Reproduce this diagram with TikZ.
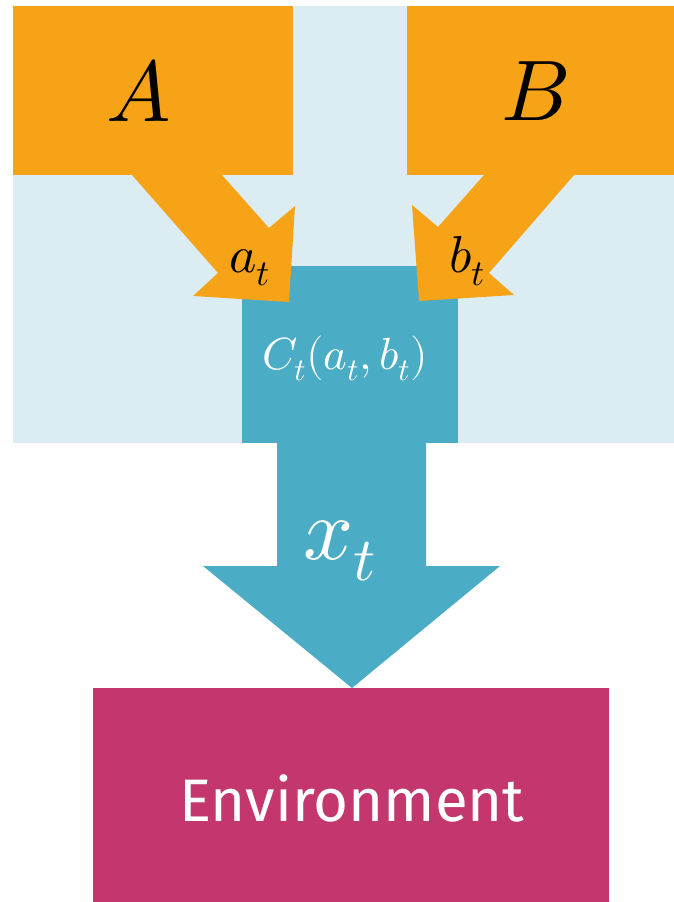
\documentclass[tikz,border=0pt]{standalone}
\usepackage{fontspec}
\usepackage{unicode-math}
\setmainfont{Fira Sans}
\setmathfont{Latin Modern Math}
\definecolor{bgblue}{HTML}{DBEDF3}
\definecolor{orng}{HTML}{F6A317}
\definecolor{tealb}{HTML}{4BACC6}
\definecolor{envpink}{HTML}{C4376E}
\tikzset{
  lbl/.style={inner sep=0pt, outer sep=0pt},
  dark/.style={lbl, text=black},
  light/.style={lbl, text=white},
}
\begin{document}
\begin{tikzpicture}[x=1pt,y=-1pt]
\useasboundingbox (0,0) rectangle (674,902);
% background region
\fill[bgblue] (13,6) rectangle (674,443);
% source boxes
\fill[orng] (13,6) rectangle (293,175);
\fill[orng] (407,6) rectangle (674,175);
% combiner box
\fill[tealb] (242,266) rectangle (458,443);
% arrows from A and B
\fill[orng] (132,175) -- (222,175) -- (269,228) -- (295,206) -- (289,302) -- (193,296) -- (218,273) -- cycle;
\fill[orng] (484,175) -- (574,175) -- (489,273) -- (514,295) -- (419,301) -- (412,205) -- (438,227) -- cycle;
% output arrow
\fill[tealb] (277,442) -- (426,442) -- (426,566) -- (500,566) -- (352,688) -- (203,566) -- (277,566) -- cycle;
% environment
\fill[envpink] (93,688) rectangle (609,902);
% labels
\node[dark, font=\fontsize{86}{90}\selectfont] (A) at (139,91) {$A$};
\node[dark, font=\fontsize{86}{90}\selectfont] (B) at (535,91) {$B$};
\node[dark, font=\fontsize{52}{56}\selectfont] (at) at (250,268) {$a_t$};
\node[dark, font=\fontsize{52}{56}\selectfont] (bt) at (467,261) {$b_t$};
\node[light, font=\fontsize{45}{50}\selectfont] (C) at (345,358) {$C_t(a_t,b_t)$};
\node[light, font=\fontsize{88}{94}\selectfont] (xt) at (340,551) {$x_t$};
\node[light, font=\fontsize{60}{66}\selectfont] (env) at (352,798) {Environment};
\end{tikzpicture}
\end{document}
